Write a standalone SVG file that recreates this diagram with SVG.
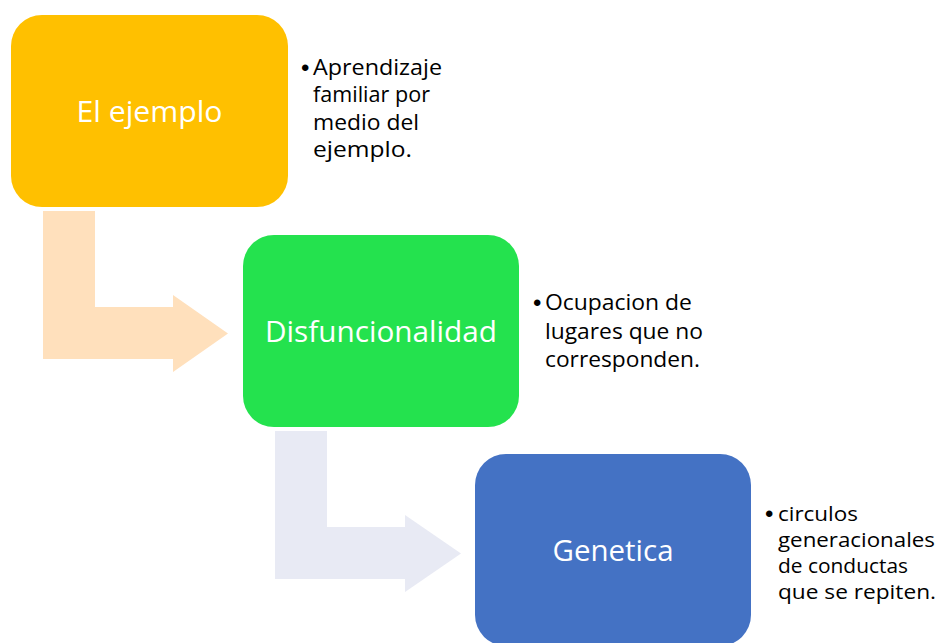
<svg xmlns="http://www.w3.org/2000/svg" width="941" height="643" viewBox="0 0 941 643">
<style>
.lbl{font-family:"Open Sans","Liberation Sans",sans-serif;font-size:29.5px;fill:#ffffff;text-anchor:middle}
.bul{font-family:"Open Sans","Liberation Sans",sans-serif;font-size:22px;fill:#000000}
.sm{font-size:20.5px}
.dot{font-family:"Liberation Sans",Arial,sans-serif;font-size:24px;fill:#000000}
</style>
<rect width="941" height="643" fill="#ffffff"/>
<g id="connectors">
<path d="M43,211 H95 V307 H173 V295 L228,333.5 L173,372 V359 H43 Z" fill="#FFE0BC"/>
<path d="M275,431 H327 V527 H405 V515 L461,553.5 L405,592 V579 H275 Z" fill="#E8EAF4"/>
</g>
<g id="node-ejemplo">
<rect x="11" y="15" width="277" height="192" rx="31" ry="31" fill="#FFC000"/>
<text class="lbl" x="149.5" y="121.5" textLength="146" lengthAdjust="spacingAndGlyphs">El ejemplo</text>
</g>
<g id="note-ejemplo">
<text class="dot" x="301" y="76">•</text>
<text class="bul" x="313" y="75" textLength="129" lengthAdjust="spacingAndGlyphs">Aprendizaje</text>
<text class="bul" x="313" y="102" textLength="117" lengthAdjust="spacingAndGlyphs">familiar por</text>
<text class="bul" x="313" y="129.5" textLength="106" lengthAdjust="spacingAndGlyphs">medio del</text>
<text class="bul" x="313" y="157" textLength="99" lengthAdjust="spacingAndGlyphs">ejemplo.</text>
</g>
<g id="node-disfuncionalidad">
<rect x="243" y="235" width="276" height="192" rx="31" ry="31" fill="#24E24E"/>
<text class="lbl" x="381" y="341.5" textLength="232" lengthAdjust="spacingAndGlyphs">Disfuncionalidad</text>
</g>
<g id="note-disfuncionalidad">
<text class="dot" x="533" y="311">•</text>
<text class="bul" x="545" y="310" textLength="147" lengthAdjust="spacingAndGlyphs">Ocupacion de</text>
<text class="bul" x="545" y="338.5" textLength="158" lengthAdjust="spacingAndGlyphs">lugares que no</text>
<text class="bul" x="545" y="367" textLength="155" lengthAdjust="spacingAndGlyphs">corresponden.</text>
</g>
<g id="node-genetica">
<rect x="475" y="454" width="276" height="192" rx="31" ry="31" fill="#4472C4"/>
<text class="lbl" x="613" y="561" textLength="121" lengthAdjust="spacingAndGlyphs">Genetica</text>
</g>
<g id="note-genetica">
<text class="dot" x="765" y="522">•</text>
<text class="bul sm" x="778" y="521" textLength="80" lengthAdjust="spacingAndGlyphs">circulos</text>
<text class="bul sm" x="778" y="547" textLength="157" lengthAdjust="spacingAndGlyphs">generacionales</text>
<text class="bul sm" x="778" y="573" textLength="130" lengthAdjust="spacingAndGlyphs">de conductas</text>
<text class="bul sm" x="778" y="599" textLength="158" lengthAdjust="spacingAndGlyphs">que se repiten.</text>
</g>
</svg>
